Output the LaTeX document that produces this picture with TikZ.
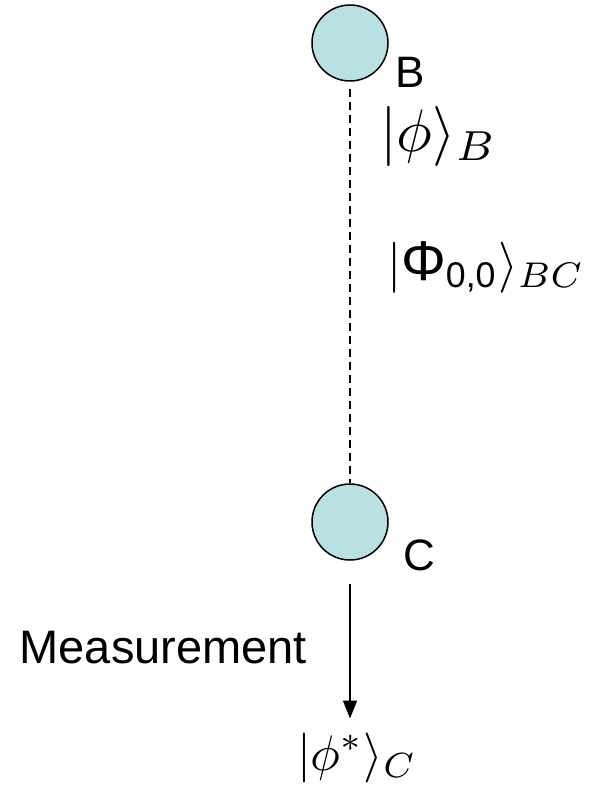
\documentclass[tikz,border=0pt]{standalone}
\usepackage{amsmath}
\usepackage{fontspec}
\setmainfont{Liberation Sans}
\usetikzlibrary{arrows.meta}
\definecolor{qfill}{HTML}{B9E0E3}
\begin{document}
\begin{tikzpicture}[x=1pt,y=-1pt,
  qubit/.style={circle,draw,line width=1.5pt,fill=qfill,minimum size=76pt,inner sep=0pt},
  lbl/.style={font=\fontsize{44}{50}\selectfont,inner sep=0pt,anchor=base west},
  mlbl/.style={inner sep=0pt,anchor=base west},
  entangle/.style={line width=1.3pt,dash pattern=on 8pt off 5pt},
  meas/.style={line width=1.5pt,-{Triangle[width=14pt,length=18pt]}}]
\useasboundingbox (0,0) rectangle (600,786);
\node[qubit] (B) at (350,43) {};
\node[qubit] (C) at (350,522) {};
\node[lbl] (Bl) at (395,88) {B};
\node[lbl] (Cl) at (403,570) {C};
\node[lbl,font=\fontsize{47}{54}\selectfont] (M) at (19.5,663) {Measurement};
\node[mlbl,scale=6] (phiB) at (379,152) {$|\phi\rangle_B$};
\node[mlbl,scale=5.1] (PhiBC) at (386,280) {$|\text{\fontsize{11}{12}\selectfont Φ}_{\text{0,0}}\rangle_{BC}$};
\node[mlbl,scale=5.0] (phiC) at (296,770) {$|\phi^*\rangle_C$};
\draw[entangle] ([yshift=-7pt]B.south) -- (C.north);
\draw[meas] ([yshift=-23pt]C.south) -- ([yshift=13pt]C.south |- phiC.north);
\end{tikzpicture}
\end{document}
